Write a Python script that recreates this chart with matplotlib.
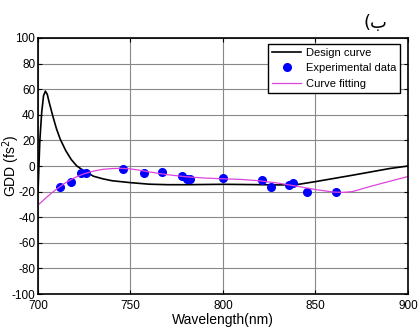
import numpy as np
import matplotlib.pyplot as plt

plt.rcParams['font.family'] = ['Liberation Sans', 'DejaVu Sans']
plt.rcParams['axes.unicode_minus'] = False

# design curve
design_x = [700, 701, 702, 703, 704, 705, 706, 708, 710, 712, 715, 718, 721, 725, 730,
            735, 740, 750, 760, 770, 780, 800, 820, 830, 840, 850, 860, 870, 880, 890, 900]
design_y = [-20, 20, 42, 55, 58.5, 56, 50, 39, 29, 21, 12, 5, 0, -4, -8,
            -10, -11.5, -13, -14.2, -14.6, -14.6, -14.3, -14.6, -14.8, -14.5, -12.2, -9.7, -7.2, -4.6, -2, 0]

# experimental points
exp_x = [711.9, 717.8, 723.2, 725.8, 745.8, 757.3, 766.9, 777.7, 780.4, 782.2,
         799.8, 820.9, 826.0, 835.7, 838.0, 845.2, 861.1]
exp_y = [-16.6, -12.5, -5.7, -5.7, -2.3, -5.2, -4.4, -7.8, -10.2, -10.2,
         -9.6, -10.9, -16.1, -15.1, -13.5, -20.0, -20.6]

# fitted curve
fit_x = [700, 705, 710, 715, 720, 725, 730, 735, 740, 745, 750, 755, 760, 770, 780,
         790, 800, 810, 820, 830, 840, 850, 860, 865, 870, 880, 890, 900]
fit_y = [-30.5, -24, -18, -13, -9, -6, -4, -2.6, -2, -1.8, -2.3, -3.3, -4.6, -6.8, -8.4,
         -9.4, -10, -10.5, -11.6, -13.4, -15.8, -18.4, -20.4, -20.6, -20, -15.8, -12, -8.2]

fig = plt.figure(figsize=(4.19, 3.27), dpi=100)
ax = fig.add_axes([0.0907, 0.1009, 0.883, 0.7829])

ax.plot(design_x, design_y, color='black', lw=1.2, label='Design curve')
ax.plot(exp_x, exp_y, 'o', color='blue', ms=5.5, label='Experimental data')
ax.plot(fit_x, fit_y, color='#dd44dd', lw=0.9, label='Curve fitting')

ax.set_xlim(700, 900)
ax.set_ylim(-100, 100)
ax.set_xticks([700, 750, 800, 850, 900])
ax.set_yticks(np.arange(-100, 101, 20))
ax.grid(True, color='#888888', lw=0.8)
ax.tick_params(direction='in', top=True, right=True, length=3, labelsize=8.5, pad=2)
ax.tick_params(axis='x', pad=4)
for s in ax.spines.values():
    s.set_linewidth(1.2)

ax.set_xlabel('Wavelength(nm)', fontsize=10, labelpad=1)
ax.set_ylabel('GDD (fs$^2$)', fontsize=10)
ax.yaxis.set_label_coords(-0.043, 0.5)

fig.text(0.897, 0.93, '(ب', fontsize=13, family=['DejaVu Sans'], ha='center', va='center')

leg = ax.legend(loc='upper right', bbox_to_anchor=(0.978, 0.977), fontsize=8,
                frameon=True, fancybox=False, edgecolor='black', framealpha=1,
                borderpad=0.35, handlelength=2.6, handletextpad=0.4, labelspacing=0.5,
                borderaxespad=0)
leg.get_frame().set_linewidth(1.0)

fig.savefig('out.png', dpi=100)
